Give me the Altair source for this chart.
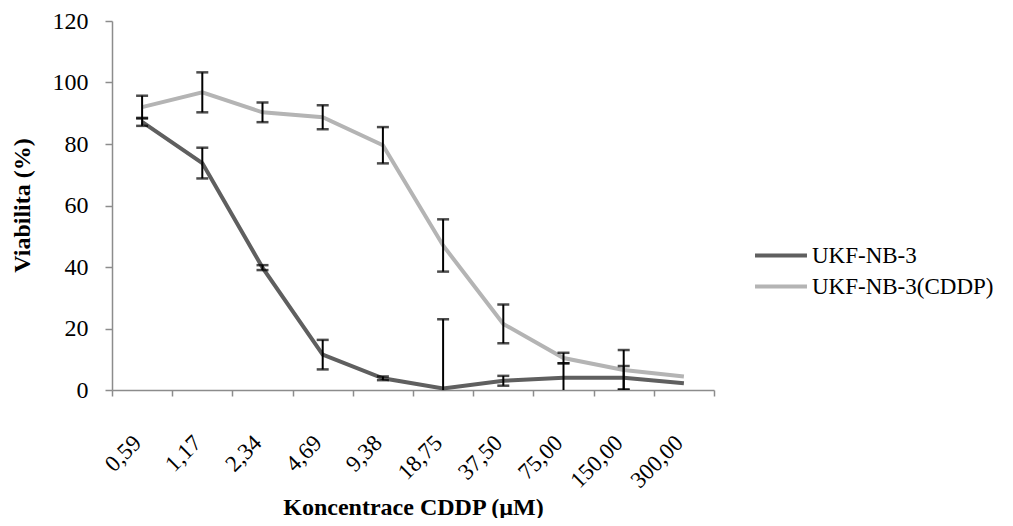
import altair as alt
import pandas as pd

conc = ["0,59", "1,17", "2,34", "4,69", "9,38", "18,75", "37,50", "75,00", "150,00", "300,00"]
series_names = ["UKF-NB-3", "UKF-NB-3(CDDP)"]
nb3 = [87.2, 73.8, 39.8, 11.5, 3.8, 0.5, 3.0, 4.0, 4.0, 2.2]
nb3_err = [1.3, 5.0, 0.8, 4.8, 0.6, 22.5, 1.6, 4.7, 3.8, None]
cddp = [92.0, 96.8, 90.3, 88.7, 79.6, 47.0, 21.5, 10.4, 6.5, 4.4]
cddp_err = [3.7, 6.5, 3.2, 3.9, 5.9, 8.5, 6.3, 1.7, 6.5, None]
colors = ["#5f5f5f", "#b4b4b4"]

rows = []
for i, c in enumerate(conc):
    rows.append({"conc": c, "series": series_names[0], "v": nb3[i], "e": nb3_err[i]})
for i, c in enumerate(conc):
    rows.append({"conc": c, "series": series_names[1], "v": cddp[i], "e": cddp_err[i]})
df = pd.DataFrame(rows)
df["lo"] = df["v"] - df["e"]
df["hi"] = df["v"] + df["e"]
err = df.dropna(subset=["e"])

FONT = "Liberation Serif"

x = alt.X("conc:N", sort=conc, scale=alt.Scale(paddingInner=0, paddingOuter=0),
          axis=alt.Axis(title="Koncentrace CDDP (µM)", labelAngle=-45, labelAlign="right",
                        labelBaseline="middle", labelPadding=43, labelOffset=-5,
                        tickBand="extent", labelFontSize=23,
                        tickSize=6, titleX=301, titleY=124, titleBaseline="alphabetic",
                        titleAlign="center", titleFontSize=24))
y = alt.Y("v:Q", scale=alt.Scale(domain=[0, 120]),
          axis=alt.Axis(title="Viabilita (%)", values=[0, 20, 40, 60, 80, 100, 120],
                        tickSize=7, labelPadding=17, titleX=-90, titleY=184,
                        labelFontSize=24, titleFontSize=24,
                        titleAngle=-90, titleAlign="center", titleBaseline="middle"))

color = alt.Color("series:N", scale=alt.Scale(domain=series_names, range=colors),
                  legend=alt.Legend(title=None, orient="none", legendX=641, legendY=223,
                                    symbolType="stroke", symbolSize=2700, symbolStrokeWidth=4,
                                    labelFont=FONT, labelFontSize=23, labelColor="#000000",
                                    labelLimit=400, labelOffset=3, rowPadding=7, clipHeight=23))

lines = alt.Chart(df).mark_line(strokeWidth=4).encode(x=x, y=y, color=color)

bars = alt.Chart(err).mark_rule(color="#000000", strokeWidth=2, clip=True).encode(
    x=alt.X("conc:N", sort=conc), y="lo:Q", y2="hi:Q")
caps_hi = alt.Chart(err).mark_tick(color="#000000", thickness=2.5, size=12, clip=True).encode(
    x=alt.X("conc:N", sort=conc), y="hi:Q")
caps_lo = alt.Chart(err).mark_tick(color="#000000", thickness=2.5, size=12, clip=True).encode(
    x=alt.X("conc:N", sort=conc), y="lo:Q")

chart = alt.layer(lines, bars, caps_hi, caps_lo).properties(
    width=602, height=369,
    autosize=alt.AutoSizeParams(type="none"),
    padding={"left": 104, "top": 13, "right": 291, "bottom": 128},
).configure_view(stroke=None).configure_axis(
    grid=False, domainColor="#8c8c8c", tickColor="#8c8c8c", domainWidth=1.5, tickWidth=1.5,
    labelFont=FONT, labelColor="#000000",
    titleFont=FONT, titleFontWeight="bold", titleColor="#000000",
).configure_legend(labelFont=FONT)

chart.save("out.html", embed_options={"renderer": "svg", "actions": False})
